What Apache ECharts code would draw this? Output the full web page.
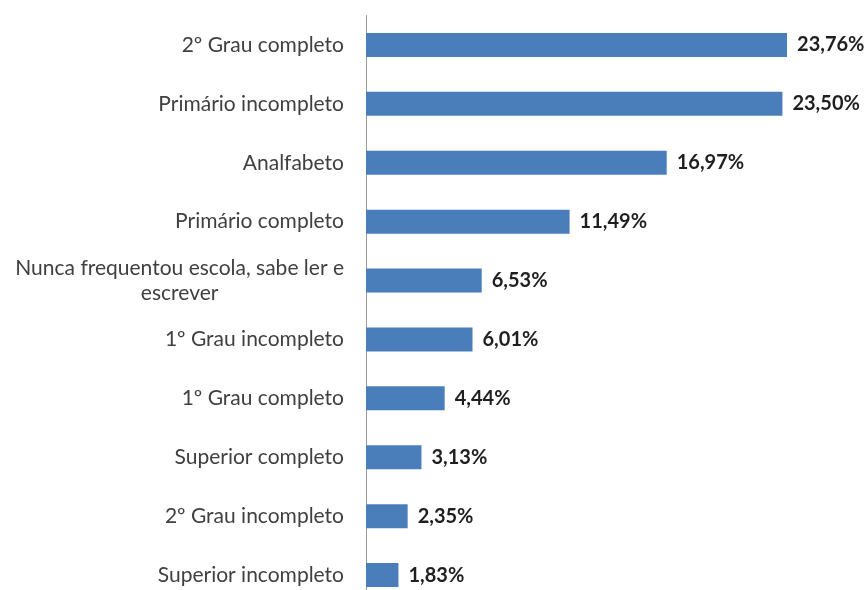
<!DOCTYPE html>
<html>
<head>
<meta charset="utf-8">
<script src="https://cdn.jsdelivr.net/npm/echarts@6/dist/echarts.min.js"></script>
<style>
  html, body { margin: 0; padding: 0; background: #ffffff; overflow: hidden; }
  /* the plot area runs past the bottom edge of the page, so the canvas is taller than the window */
  #chart { width: 867px; height: 610px; }
</style>
</head>
<body>
<div id="chart"></div>
<script>
// Escolaridade: categorias e percentuais
const categories = [
  '2º Grau completo',
  'Primário incompleto',
  'Analfabeto',
  'Primário completo',
  'Nunca frequentou escola, sabe ler e\nescrever',
  '1º Grau incompleto',
  '1º Grau completo',
  'Superior completo',
  '2º Grau incompleto',
  'Superior incompleto'
];
const values = [23.76, 23.50, 16.97, 11.49, 6.53, 6.01, 4.44, 3.13, 2.35, 1.83];

const chart = echarts.init(document.getElementById('chart'), null, { renderer: 'canvas' });

const fontFamily = 'Lato, "Open Sans", sans-serif';

chart.setOption({
  animation: false,
  backgroundColor: '#ffffff',
  grid: { left: 366, top: 15.5, width: 443, height: 589, containLabel: false },
  xAxis: {
    type: 'value',
    min: 0,
    max: 25,
    show: false
  },
  yAxis: {
    type: 'category',
    data: categories,
    inverse: true,
    axisLine: { show: true, lineStyle: { color: '#9a9a9a', width: 1 } },
    axisTick: { show: false },
    splitLine: { show: false },
    axisLabel: {
      margin: 22,
      color: '#404040',
      fontFamily: fontFamily,
      fontSize: 21,
      lineHeight: 25,
      formatter: function (v) {
        return v.split('\n').map(l => '{c|' + l + '}').join('\n');
      },
      rich: {
        c: { align: 'center', color: '#404040', fontFamily: fontFamily, fontSize: 21, lineHeight: 25 }
      }
    }
  },
  series: [{
    type: 'bar',
    data: values,
    barWidth: 24,
    itemStyle: { color: '#4a7ebb' },
    label: {
      show: true,
      position: 'right',
      distance: 10,
      color: '#1f1f1f',
      fontFamily: fontFamily,
      fontWeight: 'bold',
      fontSize: 20,
      formatter: function (p) {
        return p.value.toFixed(2).replace('.', ',') + '%';
      }
    }
  }]
});
</script>
</body>
</html>
